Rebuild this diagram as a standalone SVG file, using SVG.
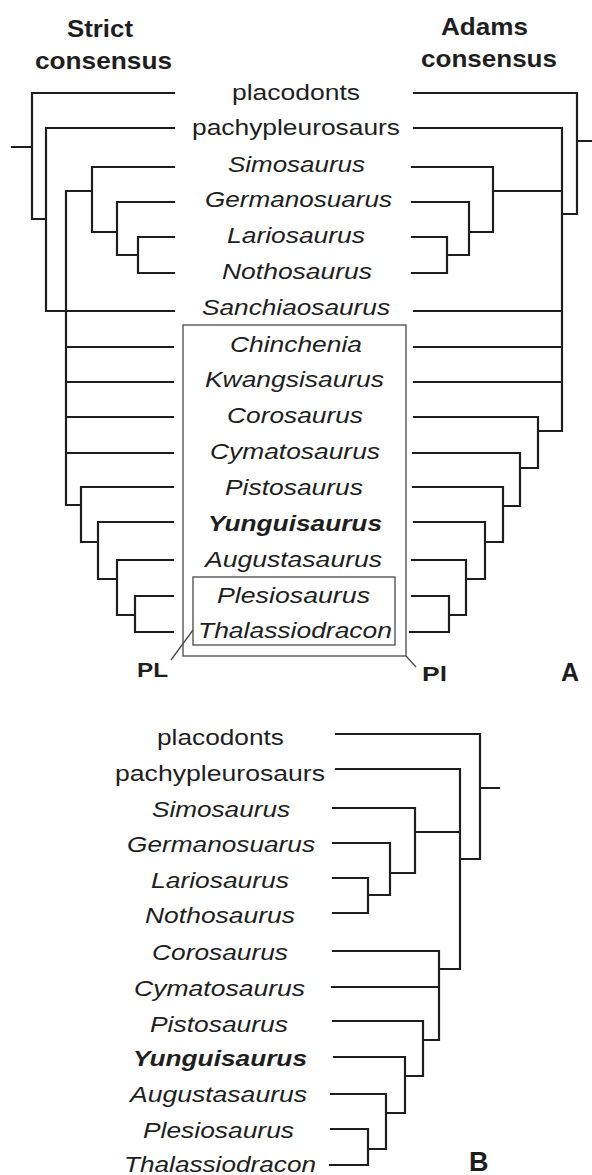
<svg xmlns="http://www.w3.org/2000/svg" width="592" height="1175" viewBox="0 0 592 1175">
<style>
.t{font-family:"Liberation Sans",Arial,sans-serif;font-size:22px;fill:#1e1e1e}
.i{font-style:italic}
.b{font-weight:bold}
.h{font-family:"Liberation Sans",Arial,sans-serif;font-size:24px;font-weight:bold;fill:#1e1e1e}
.m{font-family:"Liberation Sans",Arial,sans-serif;font-size:20px;font-weight:bold;fill:#1e1e1e}
.br{fill:none;stroke:#1e1e1e;stroke-width:2.2;stroke-linecap:square}
.bx{fill:none;stroke:#4a4a4a;stroke-width:1.3}
</style>
<rect width="592" height="1175" fill="#fff"/>
<g id="headings">
<text class="h" x="67" y="37" textLength="66" lengthAdjust="spacingAndGlyphs">Strict</text>
<text class="h" x="35" y="69" textLength="137" lengthAdjust="spacingAndGlyphs">consensus</text>
<text class="h" x="441" y="35" textLength="87" lengthAdjust="spacingAndGlyphs">Adams</text>
<text class="h" x="421" y="67" textLength="136" lengthAdjust="spacingAndGlyphs">consensus</text>
</g>
<g id="connectors">
<path class="br" d="M12,147H32M32,93V219M32,93H174M32,219H46M46,128V311M46,128H174M46,311H174M66,191V505M66,191H92M92,167V232M92,167H174M92,232H117M117,202V255M117,202H174M117,255H138M138,237V273M138,237H174M138,273H174M66,347H173M66,382H173M66,417H173M66,453H173M66,505H81M81,487V542M81,487H173M81,542H98M98,522V579M98,522H173M98,579H117M117,560V615M117,560H173M117,615H135M135,596V632M135,596H173M135,632H173"/>
<path class="br" d="M414,93H577M577,93V214M577,141H591M562,214H577M414,128H562M562,128V431M412,167H493M493,167V232M493,191H562M412,202H469M469,202V255M469,232H493M412,237H447M447,237V273M447,255H469M412,273H447M414,311H562M414,347H562M414,382H562M414,417H538M538,417V468M538,431H562M413,453H520M520,453V506M520,468H538M413,487H503M503,487V542M503,506H520M414,522H485M485,522V579M485,542H503M412,560H466M466,560V615M466,579H485M412,596H449M449,596V632M449,615H466M410,632H449"/>
<path class="br" d="M336,734H480M480,734V859M480,788H499M460,859H480M336,769H460M460,769V969M333,808H415M415,808V873M415,832H460M333,843H390M390,843V895M390,873H415M333,878H368M368,878V913M368,895H390M333,913H368M333,951H439M439,951V1040M439,969H460M332,987H439M333,1021H423M423,1021V1076M423,1040H439M334,1057H405M405,1057V1113M405,1076H423M331,1094H386M386,1094V1149M386,1113H405M331,1129H368M368,1129V1165M368,1149H386M330,1165H368"/>
</g>
<g id="boxes">
<rect id="box-Pl" class="bx" x="183" y="325" width="223" height="331"/>
<rect id="box-PL" class="bx" x="193" y="577" width="202" height="68"/>
<path class="bx" d="M171,660L193,630M406,656L416,667"/>
</g>
<g id="labels-A">
<g id="a-placodonts"><text class="t" x="232" y="100" textLength="128" lengthAdjust="spacingAndGlyphs">placodonts</text></g>
<g id="a-pachypleurosaurs"><text class="t" x="192" y="135" textLength="208" lengthAdjust="spacingAndGlyphs">pachypleurosaurs</text></g>
<g id="a-simosaurus"><text class="t i" x="228" y="172" textLength="137" lengthAdjust="spacingAndGlyphs">Simosaurus</text></g>
<g id="a-germanosuarus"><text class="t i" x="205" y="207" textLength="187" lengthAdjust="spacingAndGlyphs">Germanosuarus</text></g>
<g id="a-lariosaurus"><text class="t i" x="227" y="243" textLength="138" lengthAdjust="spacingAndGlyphs">Lariosaurus</text></g>
<g id="a-nothosaurus"><text class="t i" x="222" y="279" textLength="150" lengthAdjust="spacingAndGlyphs">Nothosaurus</text></g>
<g id="a-sanchiaosaurus"><text class="t i" x="202" y="315" textLength="188" lengthAdjust="spacingAndGlyphs">Sanchiaosaurus</text></g>
<g id="a-chinchenia"><text class="t i" x="230" y="352" textLength="132" lengthAdjust="spacingAndGlyphs">Chinchenia</text></g>
<g id="a-kwangsisaurus"><text class="t i" x="205" y="387" textLength="179" lengthAdjust="spacingAndGlyphs">Kwangsisaurus</text></g>
<g id="a-corosaurus"><text class="t i" x="227" y="423" textLength="136" lengthAdjust="spacingAndGlyphs">Corosaurus</text></g>
<g id="a-cymatosaurus"><text class="t i" x="210" y="459" textLength="170" lengthAdjust="spacingAndGlyphs">Cymatosaurus</text></g>
<g id="a-pistosaurus"><text class="t i" x="225" y="495" textLength="138" lengthAdjust="spacingAndGlyphs">Pistosaurus</text></g>
<g id="a-yunguisaurus"><text class="t i b" x="208" y="531" textLength="174" lengthAdjust="spacingAndGlyphs">Yunguisaurus</text></g>
<g id="a-augustasaurus"><text class="t i" x="205" y="567" textLength="177" lengthAdjust="spacingAndGlyphs">Augustasaurus</text></g>
<g id="a-plesiosaurus"><text class="t i" x="217" y="603" textLength="153" lengthAdjust="spacingAndGlyphs">Plesiosaurus</text></g>
<g id="a-thalassiodracon"><text class="t i" x="198" y="638" textLength="194" lengthAdjust="spacingAndGlyphs">Thalassiodracon</text></g>
</g>
<g id="markers">
<text class="m" x="137" y="677" textLength="31" lengthAdjust="spacingAndGlyphs">PL</text>
<text class="m" x="422" y="681" textLength="25" lengthAdjust="spacingAndGlyphs">Pl</text>
<text class="h" x="561" y="681" style="font-size:25px">A</text>
<text class="h" x="469" y="1171" style="font-size:27px">B</text>
</g>
<g id="labels-B">
<g id="b-placodonts"><text class="t" x="157" y="745" textLength="127" lengthAdjust="spacingAndGlyphs">placodonts</text></g>
<g id="b-pachypleurosaurs"><text class="t" x="115" y="781" textLength="210" lengthAdjust="spacingAndGlyphs">pachypleurosaurs</text></g>
<g id="b-simosaurus"><text class="t i" x="152" y="817" textLength="138" lengthAdjust="spacingAndGlyphs">Simosaurus</text></g>
<g id="b-germanosuarus"><text class="t i" x="127" y="852" textLength="188" lengthAdjust="spacingAndGlyphs">Germanosuarus</text></g>
<g id="b-lariosaurus"><text class="t i" x="151" y="888" textLength="138" lengthAdjust="spacingAndGlyphs">Lariosaurus</text></g>
<g id="b-nothosaurus"><text class="t i" x="145" y="923" textLength="150" lengthAdjust="spacingAndGlyphs">Nothosaurus</text></g>
<g id="b-corosaurus"><text class="t i" x="152" y="960" textLength="136" lengthAdjust="spacingAndGlyphs">Corosaurus</text></g>
<g id="b-cymatosaurus"><text class="t i" x="134" y="996" textLength="171" lengthAdjust="spacingAndGlyphs">Cymatosaurus</text></g>
<g id="b-pistosaurus"><text class="t i" x="150" y="1032" textLength="138" lengthAdjust="spacingAndGlyphs">Pistosaurus</text></g>
<g id="b-yunguisaurus"><text class="t i b" x="133" y="1066" textLength="174" lengthAdjust="spacingAndGlyphs">Yunguisaurus</text></g>
<g id="b-augustasaurus"><text class="t i" x="130" y="1102" textLength="177" lengthAdjust="spacingAndGlyphs">Augustasaurus</text></g>
<g id="b-plesiosaurus"><text class="t i" x="143" y="1138" textLength="151" lengthAdjust="spacingAndGlyphs">Plesiosaurus</text></g>
<g id="b-thalassiodracon"><text class="t i" x="124" y="1172" textLength="192" lengthAdjust="spacingAndGlyphs">Thalassiodracon</text></g>
</g>
</svg>
